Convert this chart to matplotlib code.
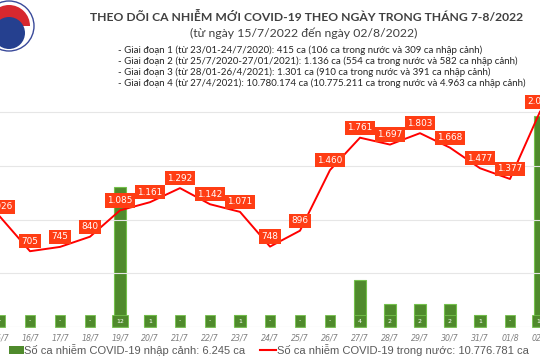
import matplotlib.pyplot as plt
from matplotlib.patches import Circle, Wedge, Rectangle

# data
days = ["15/7", "16/7", "17/7", "18/7", "19/7", "20/7", "21/7", "22/7", "23/7",
        "24/7", "25/7", "26/7", "27/7", "28/7", "29/7", "30/7", "31/7", "01/8", "02/8"]
domestic = [1026, 705, 745, 840, 1085, 1161, 1292, 1142, 1071,
            748, 896, 1460, 1761, 1697, 1803, 1668, 1477, 1377, 2003]
imported = [0, 0, 0, 0, 12, 1, 0, 0, 1, 0, 0, 0, 4, 2, 2, 2, 1, 0, 18]

title = "THEO DÕI CA NHIỄM MỚI COVID-19 THEO NGÀY TRONG THÁNG 7-8/2022"
subtitle = "(từ ngày 15/7/2022 đến ngày 02/8/2022)"
notes = [
    "- Giai đoạn 1 (từ 23/01-24/7/2020): 415 ca (106 ca trong nước và 309 ca nhập cảnh)",
    "- Giai đoạn 2 (từ 25/7/2020-27/01/2021): 1.136 ca (554 ca trong nước và 582 ca nhập cảnh)",
    "- Giai đoạn 3 (từ 28/01-26/4/2021): 1.301 ca (910 ca trong nước và 391 ca nhập cảnh)",
    "- Giai đoạn 4 (từ 27/4/2021): 10.780.174 ca (10.775.211 ca trong nước và 4.963 ca nhập cảnh)",
]
legend_bar = "Số ca nhiễm COVID-19 nhập cảnh: 6.245 ca"
legend_line = "Số ca nhiễm COVID-19 trong nước: 10.776.781 ca"

RED = "#ff0000"
LABEL_RED = "#ff3d14"
GREEN = "#4f8a2c"
GREEN_EDGE = "#74c14c"
GRAY = "#595959"


def fmt(v):
    return f"{v:,}".replace(",", ".")


fig = plt.figure(figsize=(5.4, 3.6), dpi=100)
fig.patch.set_facecolor("white")

# plot area runs off both sides of the picture, as in the reference crop
ax2 = fig.add_axes([0, 33 / 360, 1, 325 / 360])
ax = ax2.twinx()
x = list(range(len(days)))

ax2.bar(x, imported, width=0.4, color=GREEN, edgecolor=GREEN_EDGE, linewidth=0.8, zorder=2)
ax2.set_ylim(0, 325 / 11.7)
for xi, v in zip(x, imported):
    ax2.text(xi, 0.5, fmt(v) if v else "-", ha="center", va="center",
             fontsize=4.5, color="white", zorder=3,
             bbox=dict(boxstyle="square,pad=0.6", fc=GREEN, ec=GREEN_EDGE, lw=0.6))

ax.plot(x, domestic, color=RED, lw=1.4, zorder=4)
ax.set_ylim(0, 325 / 0.1075)
for xi, v in zip(x, domestic):
    ax.annotate(fmt(v), (xi, v), xytext=(0, 10), textcoords="offset pixels",
                ha="center", va="center", fontsize=6.4, color="white", zorder=5,
                bbox=dict(boxstyle="square,pad=0.3", fc=LABEL_RED, ec="none"))

# gridlines for the line axis
for g in [500, 1000, 1500, 2000]:
    ax.axhline(g, color="#e6e6e6", lw=0.8, zorder=0)
ax.axhline(0, color="#d9d9d9", lw=0.8, zorder=0)

ax2.set_xlim((0 + 2.1) / 30.39, (540 + 2.1) / 30.39)
ax2.set_xticks(x)
ax2.set_xticklabels(days, fontsize=5.7, color="#7f7f7f", style="italic")
ax2.tick_params(axis="x", length=0, pad=5)
ax2.set_yticks([])
ax.set_yticks([])
for a in (ax, ax2):
    for s in a.spines.values():
        s.set_visible(False)
ax2.set_zorder(1)
ax.set_zorder(2)
ax.patch.set_visible(False)

# header text
fig.text(0.567, 1 - 17 / 360, title, ha="center", va="center",
         fontsize=8.7, fontweight="bold", color="#404040", family="Lato")
fig.text(0.563, 1 - 33 / 360, subtitle, ha="center", va="center",
         fontsize=8.8, color="#404040", family="Lato")
for i, line in enumerate(notes):
    fig.text(118 / 540, 1 - (50.7 + i * 11) / 360, line, ha="left", va="center",
             fontsize=7.0, color="#262626", family="Lato")

# logo, cut at the left edge
fig.patches.append(Circle((9, 334), 25, transform=None, fc="white", ec="#3a4a9a", lw=1.0))
fig.patches.append(Wedge((9, 334), 21, 0, 180, transform=None, fc="#d7282f", ec="none"))
fig.patches.append(Circle((9, 327), 16, transform=None, fc="#25408f", ec="none"))

# legend at the bottom
fig.patches.append(Rectangle((9, 6), 15, 8, transform=None, fc=GREEN, ec="none"))
fig.text(24 / 540, 10 / 360, legend_bar, ha="left", va="center",
         fontsize=8.0, color=GRAY, family="Liberation Sans")
fig.lines.append(plt.Line2D([260, 276], [10, 10], transform=None, color=RED, lw=1.5))
fig.text(277 / 540, 10 / 360, legend_line, ha="left", va="center",
         fontsize=8.0, color=GRAY, family="Liberation Sans")

fig.savefig("out.png", dpi=100)
